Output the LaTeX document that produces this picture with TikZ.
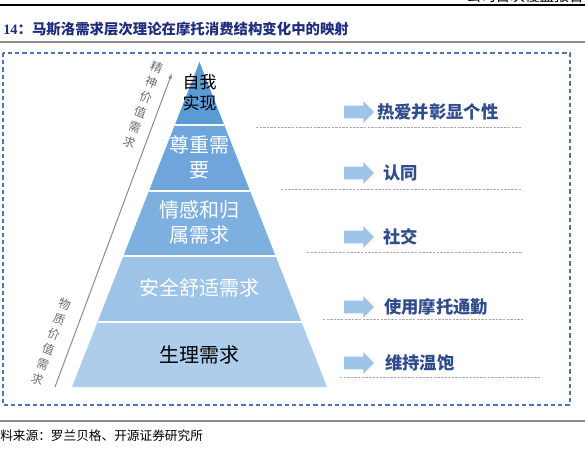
\documentclass[tikz,border=0pt]{standalone}
\usepackage{fontspec}
\setmainfont{Liberation Serif}
\newfontfamily\cjk{Noto Sans CJK SC}
\usetikzlibrary{shapes.arrows,arrows.meta}
\definecolor{titleblue}{RGB}{31,45,125}
\definecolor{boxblue}{RGB}{79,115,181}
\definecolor{lvA}{RGB}{91,155,213}
\definecolor{lvB}{RGB}{110,166,219}
\definecolor{lvC}{RGB}{126,176,223}
\definecolor{lvD}{RGB}{157,195,230}
\definecolor{lvE}{RGB}{173,205,235}
\definecolor{arrowblue}{RGB}{157,195,230}
\definecolor{labelblue}{RGB}{47,77,140}
\definecolor{rulegray}{RGB}{140,140,140}
\definecolor{sepgray}{RGB}{170,170,170}
\definecolor{sidegray}{RGB}{110,110,110}
\tikzset{
  pyrtext/.style={font=\cjk\fontsize{15pt}{18.75pt}\selectfont, align=center, inner sep=0},
  sidetext/.style={font=\cjk\fontsize{9pt}{12pt}\selectfont, align=center, inner sep=0, text=sidegray, rotate=-20},
  rlabel/.style={font=\cjk\bfseries\fontsize{13pt}{15pt}\selectfont, text=labelblue, anchor=west, inner sep=0},
  barrow/.style={single arrow, fill=arrowblue, draw=none, minimum height=22.5pt, minimum width=15.75pt, single arrow head extend=3.375pt, inner xsep=0pt, inner ysep=4.5pt, shape border rotate=0},
  sepline/.style={draw=sepgray, line width=0.75pt, dash pattern=on 1.8pt off 0.9pt},
  divider/.style={draw=white, line width=1.2pt},
}
\begin{document}
\begin{tikzpicture}[x=0.75pt,y=-0.75pt]
\useasboundingbox (0,0) rectangle (585,452);
% header (cut off at top, as in the reference)
\begin{scope}
\clip (0,0) rectangle (585,452);
\node[anchor=south east, inner sep=0, font=\cjk\fontsize{11pt}{13pt}\selectfont] (hdr) at (584,3.5) {公司首次覆盖报告};
\end{scope}
\draw[black, line width=1.5pt] (0,5) -- (585,5);
% title
\node[anchor=west, inner sep=0, text=titleblue, font=\bfseries\fontsize{10.8pt}{13pt}\selectfont] (title) at (3,29) {14{\cjk\bfseries：马斯洛需求层次理论在摩托消费结构变化中的映射}};
\draw[rulegray, line width=1.5pt] (0,42) -- (585,42);
% dashed frame
\draw[boxblue, line width=0.8pt, dash pattern=on 3.2pt off 2.2pt] (3,53) rectangle (570,405);
% pyramid
\fill[lvA] (199.5,62) -- (224.2,125) -- (174.8,125) -- cycle;
\fill[lvB] (174.8,125) -- (224.2,125) -- (250.1,191) -- (148.9,191) -- cycle;
\fill[lvC] (148.9,191) -- (250.1,191) -- (275.6,256) -- (123.4,256) -- cycle;
\fill[lvD] (123.4,256) -- (275.6,256) -- (301.5,322) -- (97.5,322) -- cycle;
\fill[lvE] (97.5,322) -- (301.5,322) -- (327,387) -- (72,387) -- cycle;
\draw[divider] (174.8,125) -- (224.2,125);
\draw[divider] (148.9,191) -- (250.1,191);
\draw[divider] (123.4,256) -- (275.6,256);
\draw[divider] (97.5,322) -- (301.5,322);
\node[pyrtext, font=\cjk\fontsize{12.75pt}{15.75pt}\selectfont, text=black] (p1) at (199.5,92.5) {自我\\实现};
\node[pyrtext, text=white] (p2) at (199.5,157.5) {尊重需\\要};
\node[pyrtext, text=white] (p3) at (199.5,222.5) {情感和归\\属需求};
\node[pyrtext, text=white] (p4) at (199.5,288) {安全舒适需求};
\node[pyrtext, text=black] (p5) at (199.5,355) {生理需求};
% left arrow and texts
\coordinate (la0) at (55,387);
\coordinate (la1) at (172,73);
\draw[sidegray!80, line width=0.75pt, -{Latex[length=4.5pt,width=3pt]}] (la0) -- (la1);
\node[sidetext] (s1) at (143,105) {精\\神\\价\\值\\需\\求};
\node[sidetext] (s2) at (51,341.5) {物\\质\\价\\值\\需\\求};
% right arrows and labels
\node[barrow] (a1) at (356,112) {};
\node[barrow] (a2) at (356,173) {};
\node[barrow] (a3) at (356,237) {};
\node[barrow] (a4) at (356,307) {};
\node[barrow] (a5) at (356,363) {};
\node[rlabel] (r1) at (377,112) {热爱并彰显个性};
\node[rlabel] (r2) at (383,173) {认同};
\node[rlabel] (r3) at (383,237) {社交};
\node[rlabel] (r4) at (384,307) {使用摩托通勤};
\node[rlabel] (r5) at (385,363) {维持温饱};
% separators
\coordinate (d1a) at (256,128); \coordinate (d1b) at (522,128);
\coordinate (d2a) at (281,190); \coordinate (d2b) at (522,190);
\coordinate (d3a) at (307,253); \coordinate (d3b) at (522,253);
\coordinate (d4a) at (323,319); \coordinate (d4b) at (523,319);
\coordinate (d5a) at (340,377); \coordinate (d5b) at (541,377);
\draw[sepline] (d1a) -- (d1b);
\draw[sepline] (d2a) -- (d2b);
\draw[sepline] (d3a) -- (d3b);
\draw[sepline] (d4a) -- (d4b);
\draw[sepline] (d5a) -- (d5b);
% bottom rule and source
\draw[rulegray, line width=1.2pt] (0,421) -- (585,421);
\node[anchor=west, inner sep=0, font=\cjk\fontsize{9.5pt}{11pt}\selectfont] (src) at (0,436) {料来源：罗兰贝格、开源证券研究所};
\end{tikzpicture}
\end{document}
